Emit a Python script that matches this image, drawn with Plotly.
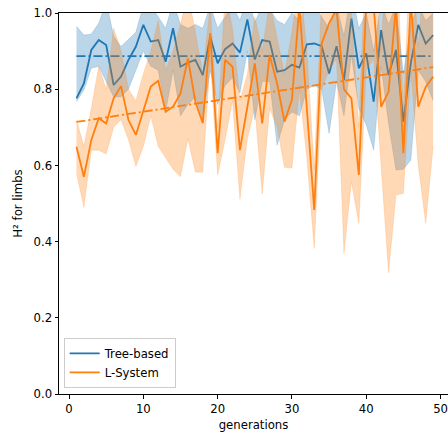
import plotly.graph_objects as go

generations = list(range(1, 50))

tree_mean = [0.776, 0.815, 0.903, 0.929, 0.916, 0.811, 0.833, 0.877, 0.912, 0.969,
             0.925, 0.929, 0.872, 0.960, 0.859, 0.870, 0.877, 0.837, 0.938, 0.868,
             0.905, 0.920, 0.896, 0.983, 0.878, 0.929, 0.925, 0.846, 0.850, 0.864,
             0.857, 0.918, 0.920, 0.913, 0.841, 0.913, 0.824, 0.985, 0.855, 0.894,
             0.767, 0.955, 0.837, 0.903, 0.715, 0.870, 0.969, 0.920, 0.942]
tree_upper = [0.965, 0.942, 0.945, 0.973, 1.03, 0.94, 0.912, 0.93, 0.95, 1.02,
              1.02, 0.99, 0.96, 1.03, 0.97, 0.96, 0.97, 0.96, 1.02, 0.96,
              0.99, 1.02, 0.98, 1.05, 0.975, 1.02, 1.01, 0.98, 0.97, 1.0,
              0.98, 1.02, 1.02, 0.99, 0.96, 1.02, 0.94, 1.06, 0.96, 1.0,
              0.90, 1.03, 0.97, 1.02, 0.84, 0.97, 1.02, 0.98, 1.0]
tree_lower = [0.767, 0.798, 0.855, 0.86, 0.82, 0.78, 0.78, 0.80, 0.85, 0.90,
              0.86, 0.85, 0.74, 0.85, 0.73, 0.76, 0.78, 0.72, 0.85, 0.76,
              0.81, 0.83, 0.79, 0.90, 0.72, 0.82, 0.82, 0.653, 0.72, 0.74,
              0.73, 0.80, 0.81, 0.80, 0.684, 0.82, 0.73, 0.89, 0.75, 0.706,
              0.64, 0.86, 0.71, 0.588, 0.59, 0.614, 0.85, 0.82, 0.77]

lsys_mean = [0.649, 0.570, 0.667, 0.724, 0.710, 0.776, 0.808, 0.719, 0.680, 0.745,
             0.807, 0.822, 0.741, 0.754, 0.789, 0.881, 0.767, 0.711, 0.947, 0.632,
             0.877, 0.859, 0.640, 0.754, 0.868, 0.710, 0.890, 0.815, 0.715, 0.772,
             1.02, 0.750, 0.483, 0.920, 0.973, 1.01, 0.800, 0.776, 0.575, 1.03,
             1.02, 0.754, 0.793, 1.02, 0.632, 1.03, 0.754, 0.806, 0.833]
lsys_upper = [0.72, 0.65, 0.75, 0.86, 0.80, 0.96, 0.90, 0.80, 0.77, 0.84,
              0.90, 0.98, 0.85, 0.90, 0.97, 1.05, 0.95, 0.84, 1.02, 0.70,
              1.05, 0.96, 0.77, 0.84, 0.99, 0.90, 1.03, 0.93, 0.84, 0.95,
              1.10, 0.90, 0.59, 1.04, 1.10, 1.12, 1.20, 1.00, 0.70, 1.20,
              1.15, 0.90, 1.27, 1.20, 0.74, 1.20, 0.91, 1.16, 1.02]
lsys_lower = [0.58, 0.49, 0.64, 0.64, 0.63, 0.70, 0.72, 0.667, 0.597, 0.65,
              0.73, 0.65, 0.62, 0.59, 0.57, 0.67, 0.583, 0.582, 0.88, 0.575,
              0.667, 0.77, 0.511, 0.671, 0.75, 0.525, 0.75, 0.70, 0.595, 0.593,
              0.80, 0.62, 0.382, 0.80, 0.85, 0.88, 0.369, 0.557, 0.448, 0.85,
              0.88, 0.60, 0.318, 0.522, 0.527, 0.85, 0.60, 0.448, 0.65]

trend_gens = [1, 49]
tree_trend = [0.887, 0.887]
lsys_trend = [0.714, 0.858]

x_ticks = [0, 10, 20, 30, 40, 50]
y_ticks = [0.0, 0.2, 0.4, 0.6, 0.8, 1.0]

BLUE = "#1f77b4"
ORANGE = "#ff7f0e"
FONT = "DejaVu Sans"
FS = 11.7

fig = go.Figure()

def add_series(name, mean, lower, upper, trend, color, rgba):
    fig.add_trace(go.Scatter(x=generations, y=lower, mode="lines",
                             line=dict(width=0.6, color=rgba), showlegend=False,
                             hoverinfo="skip"))
    fig.add_trace(go.Scatter(x=generations, y=upper, mode="lines", fill="tonexty",
                             fillcolor=rgba, line=dict(width=0.6, color=rgba),
                             showlegend=False, hoverinfo="skip"))
    fig.add_trace(go.Scatter(x=generations, y=mean, mode="lines", name=name,
                             line=dict(width=1.8, color=color)))
    fig.add_trace(go.Scatter(x=trend_gens, y=trend, mode="lines", showlegend=False,
                             line=dict(width=1.8, color=color, dash="9px,3px,2px,3px")))

add_series("Tree-based", tree_mean, tree_lower, tree_upper, tree_trend, BLUE,
           "rgba(31,119,180,0.3)")
add_series("L-System", lsys_mean, lsys_lower, lsys_upper, lsys_trend, ORANGE,
           "rgba(255,127,14,0.3)")

axis_common = dict(showgrid=False, zeroline=False, showline=True, linecolor="black",
                   linewidth=1, ticks="outside", ticklen=3.5, tickwidth=1,
                   tickcolor="black", automargin=False, ticklabeloverflow="allow",
                   tickfont=dict(family=FONT, size=FS, color="black"))

fig.update_xaxes(range=[-1.35, 51.0], tickvals=x_ticks,
                 ticktext=[str(v) for v in x_ticks], mirror=True,
                 title=dict(text="generations", font=dict(family=FONT, size=FS, color="black"),
                            standoff=6),
                 **axis_common)
fig.update_yaxes(range=[0, 1], tickvals=y_ticks,
                 ticktext=[f"{v:.1f}" for v in y_ticks], mirror=False,
                 title=dict(text="H² for limbs", font=dict(family=FONT, size=FS, color="black"),
                            standoff=8),
                 **axis_common)

fig.update_layout(
    width=448, height=433,
    margin=dict(l=59, r=0, t=13, b=39),
    plot_bgcolor="white", paper_bgcolor="white",
    font=dict(family=FONT, size=FS, color="black"),
    legend=dict(x=0.012, y=0.016, xanchor="left", yanchor="bottom",
                traceorder="normal", tracegroupgap=0, itemwidth=30,
                bgcolor="rgba(255,255,255,0.8)", bordercolor="#cccccc", borderwidth=1,
                font=dict(family=FONT, size=FS, color="black")),
)

fig.write_html("out.html")
